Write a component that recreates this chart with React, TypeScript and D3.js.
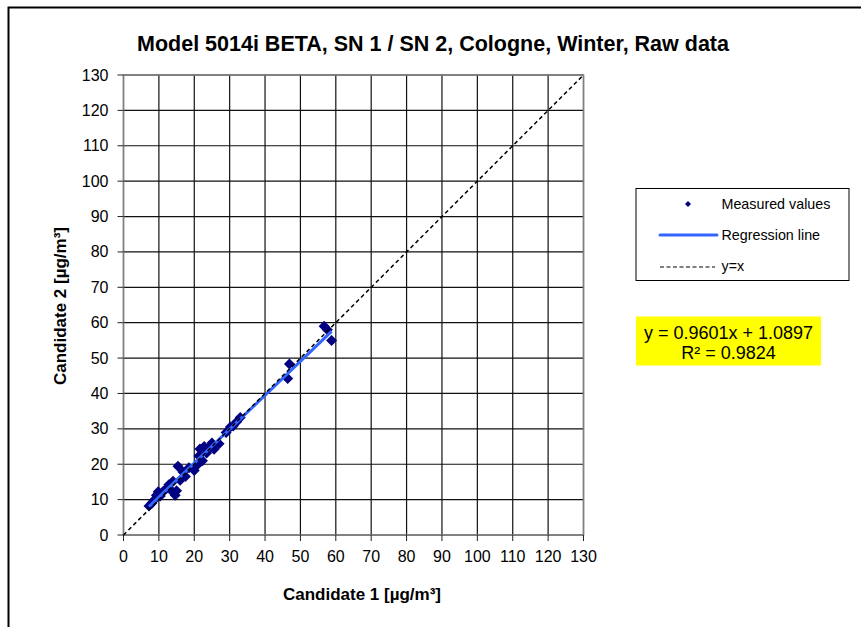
import * as d3 from "d3";

// values
const candidate1 = [
  7.2, 8.0, 8.6, 9.3, 9.8, 10.4, 11.2, 12.0, 12.8, 13.5, 14.0, 14.6, 15.0, 15.4,
  16.0, 16.8, 17.5, 18.5, 20.0, 20.5, 21.0, 21.3, 21.6, 22.3, 22.8, 23.5, 24.3,
  25.0, 25.6, 27.0, 29.0, 30.2, 31.0, 32.0, 33.0, 46.4, 46.9, 56.7, 57.6, 58.8,
];
const candidate2 = [
  8.2, 9.0, 9.8, 11.2, 12.2, 11.0, 12.3, 13.0, 14.2, 12.6, 15.2, 11.2, 12.5, 19.4,
  15.5, 17.8, 16.5, 19.0, 18.2, 19.5, 20.0, 22.3, 24.3, 21.0, 25.0, 23.2, 24.8,
  26.0, 24.2, 25.8, 29.0, 30.5, 30.8, 32.0, 33.2, 44.2, 48.3, 59.0, 58.0, 55.0,
];
const ticks = [0, 10, 20, 30, 40, 50, 60, 70, 80, 90, 100, 110, 120, 130];
const slope = 0.9601;
const intercept = 1.0897;
const equationText = "y = 0.9601x + 1.0897";
const r2Text = "R² = 0.9824";
const legendLabels = ["Measured values", "Regression line", "y=x"];

const title = "Model 5014i BETA, SN 1 / SN 2, Cologne, Winter, Raw data";
const xTitle = "Candidate 1 [µg/m³]";
const yTitle = "Candidate 2 [µg/m³]";

export default function App() {
  const width = 861;
  const height = 627;
  const left = 123.5;
  const right = 583.5;
  const top = 75;
  const bottom = 535;
  const font = "'Liberation Sans', Arial, sans-serif";

  const x = d3.scaleLinear().domain([0, 130]).range([left, right]);
  const y = d3.scaleLinear().domain([0, 130]).range([bottom, top]);

  const points = candidate1.map((c, i) => ({ x: c, y: candidate2[i] }));
  const xMin = d3.min(candidate1) as number;
  const xMax = d3.max(candidate1) as number;

  const line = d3
    .line<[number, number]>()
    .x((d) => x(d[0]))
    .y((d) => y(d[1]));

  const diamond = (r: number) => `M0,${-r}L${r},0L0,${r}L${-r},0Z`;

  return (
    <svg
      width={width}
      height={height}
      style={{ position: "absolute", left: 0, top: 0, background: "#fff" }}
      fontFamily={font}
    >
      <rect x={8.5} y={7.5} width={900} height={700} fill="#fff" stroke="#000" strokeWidth={2} />

      <text x={433} y={51} textAnchor="middle" fontSize="21.5px" fontWeight="bold">
        {title}
      </text>

      {/* grid */}
      <g>
        {ticks.map((t) => (
          <g key={t}>
            <line x1={x(t)} x2={x(t)} y1={top} y2={bottom} stroke="#111" strokeWidth={1.2} />
            <line x1={left} x2={right} y1={y(t)} y2={y(t)} stroke="#111" strokeWidth={1.2} />
          </g>
        ))}
        <rect
          x={left}
          y={top}
          width={right - left}
          height={bottom - top}
          fill="none"
          stroke="#808080"
          strokeWidth={1.5}
        />
      </g>

      {/* axes */}
      <g fontSize="16px">
        {ticks.map((t) => (
          <g key={t}>
            <line x1={left - 6} x2={left} y1={y(t)} y2={y(t)} stroke="#222" />
            <text x={108.5} y={y(t) + 5.5} textAnchor="end">
              {t}
            </text>
            <line x1={x(t)} x2={x(t)} y1={bottom} y2={bottom + 6} stroke="#222" />
            <text x={x(t)} y={562} textAnchor="middle">
              {t}
            </text>
          </g>
        ))}
      </g>
      <text x={362} y={600} textAnchor="middle" fontSize="17px" fontWeight="bold">
        {xTitle}
      </text>
      <text
        transform={`translate(66,306) rotate(-90)`}
        textAnchor="middle"
        fontSize="17px"
        fontWeight="bold"
      >
        {yTitle}
      </text>

      {/* marks */}
      <g>
        {points.map((p, i) => (
          <path key={i} d={diamond(5.5)} transform={`translate(${x(p.x)},${y(p.y)})`} fill="#000080" />
        ))}
      </g>
      <path
        d={line([
          [xMin, slope * xMin + intercept],
          [xMax, slope * xMax + intercept],
        ]) as string}
        stroke="#3366ff"
        strokeWidth={3}
        fill="none"
      />
      <path
        d={line([
          [0, 0],
          [130, 130],
        ]) as string}
        stroke="#000"
        strokeWidth={1.5}
        strokeDasharray="4 3"
        fill="none"
      />

      {/* legend */}
      <g fontSize="14.3px">
        <rect x={636} y={188.5} width={213} height={92} fill="#fff" stroke="#000" />
        <path d={diamond(3)} transform="translate(688,204)" fill="#000080" />
        <text x={721.5} y={208.5}>{legendLabels[0]}</text>
        <line x1={660} x2={717} y1={235} y2={235} stroke="#3366ff" strokeWidth={3} strokeLinecap="round" />
        <text x={721.5} y={239.5}>{legendLabels[1]}</text>
        <line x1={660} x2={715} y1={267} y2={267} stroke="#000" strokeWidth={1.2} strokeDasharray="4 2.5" />
        <text x={721.5} y={271}>{legendLabels[2]}</text>
      </g>

      <g fontSize="18px" textAnchor="middle">
        <rect x={636} y={316.5} width={185} height={49} fill="#ffff00" />
        <text x={728.5} y={338.5}>{equationText}</text>
        <text x={728.5} y={358.5}>{r2Text}</text>
      </g>
    </svg>
  );
}
